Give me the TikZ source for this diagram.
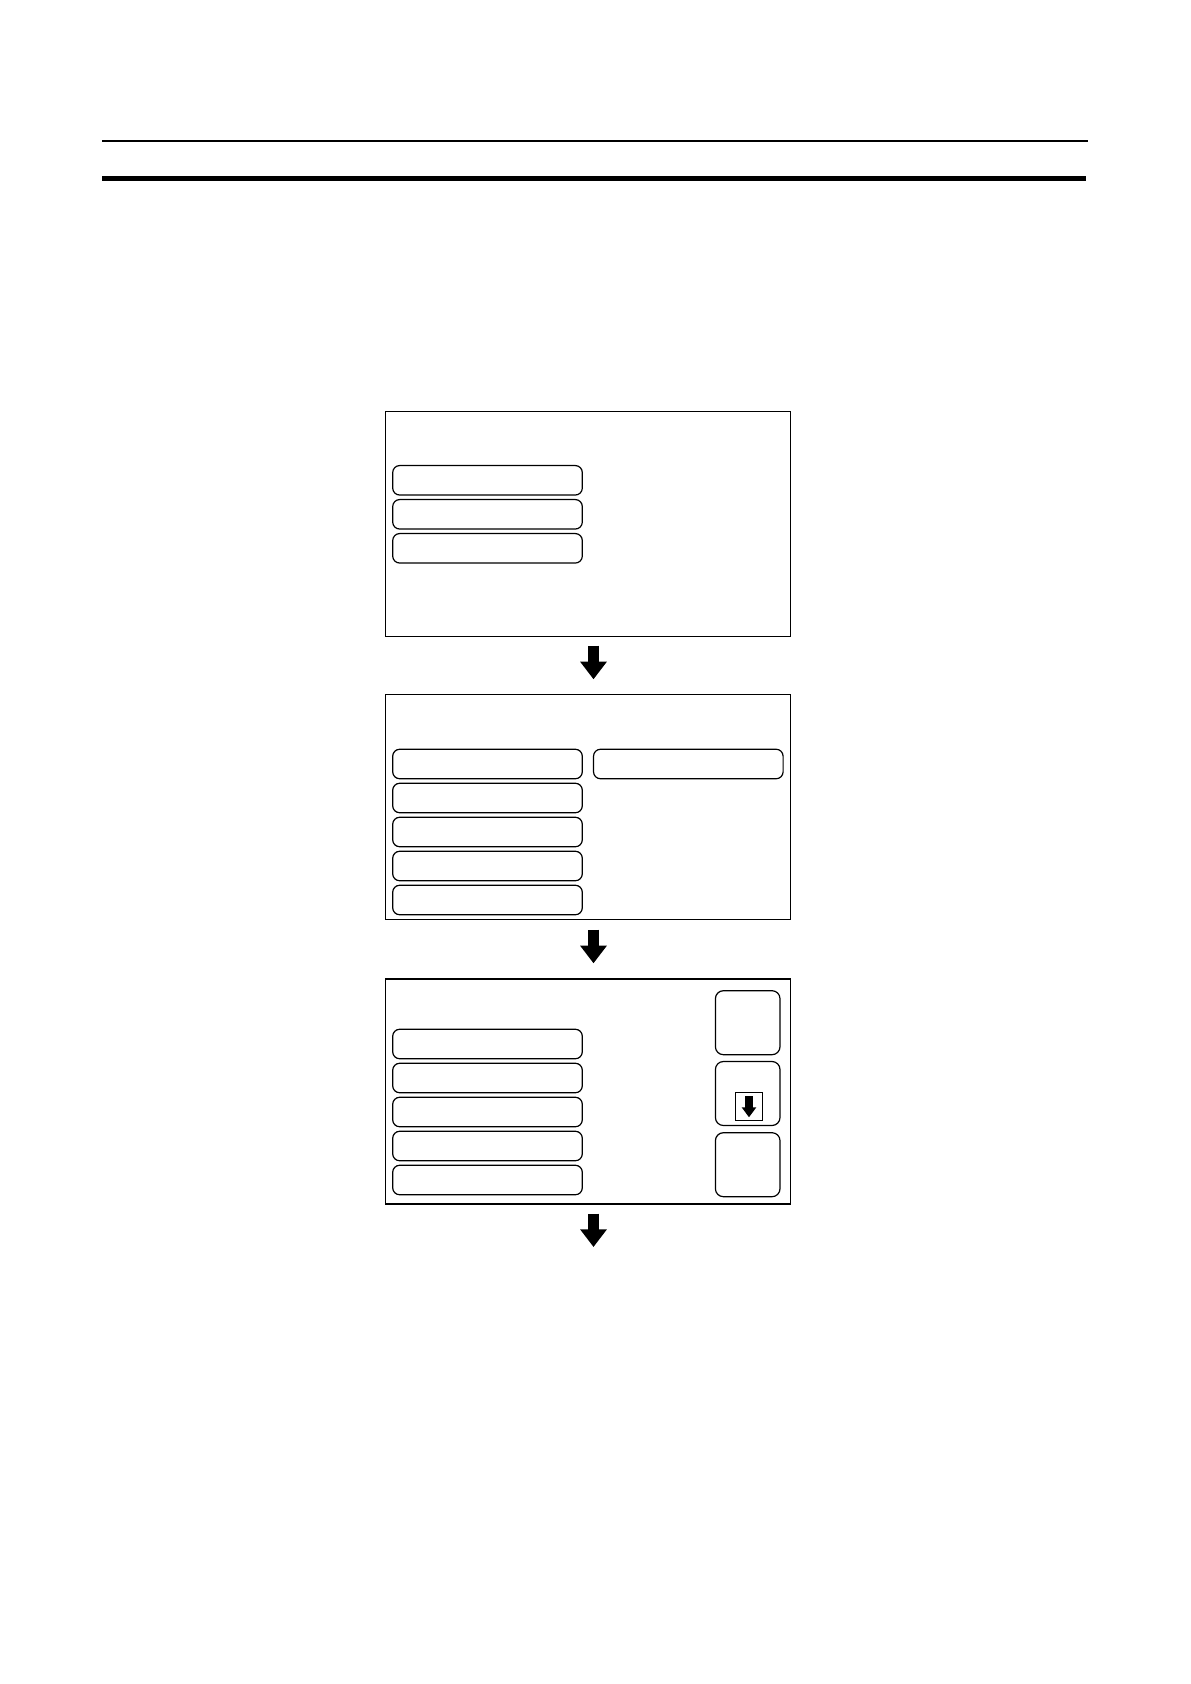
\documentclass[tikz,border=0pt]{standalone}
\usepackage{tikz}
\usetikzlibrary{calc,arrows.meta}

\begin{document}
\begin{tikzpicture}
[x=0.5pt,y=-0.5pt,
 screen/.style={draw,rectangle,line width=0.7pt,inner sep=0pt,minimum width=202.7pt,minimum height=112.5pt},
 key/.style={draw,rectangle,rounded corners=3.5pt,line width=0.6pt,inner sep=0pt,minimum width=94.8pt,minimum height=14.75pt},
 sidekey/.style={draw,rectangle,rounded corners=4pt,line width=0.6pt,inner sep=0pt,minimum width=32.3pt,minimum height=32pt},
 iconbox/.style={draw,rectangle,line width=0.6pt,inner sep=0pt,minimum width=13.7pt,minimum height=14pt},
 bigarrow/.style={line width=5.8pt,-{Triangle[width=12.85pt,length=8.85pt]}},
 smallarrow/.style={line width=3.65pt,-{Triangle[width=7pt,length=5pt]}}]

% page size
\useasboundingbox (0,0) rectangle (1190,1684);

% the rules at the head of the page
\draw[line width=0.85pt] (102,140.7) -- (1087.7,140.7);
\draw[line width=2.35pt] (102,178.4) -- (1085.7,178.4);

% the three screens
\node[screen] (s1) at (588,524) {};
\node[screen] (s2) at (588,807) {};
\node[screen] (s3) at (588,1091.5) {};

% keys of the first screen
\node[key] (s1k1) at (487.5,480.3) {};
\node[key] (s1k2) at (487.5,514.3) {};
\node[key] (s1k3) at (487.5,548.3) {};

% keys of the second screen
\node[key] (s2k1) at (487.5,764) {};
\node[key] (s2k2) at (487.5,798) {};
\node[key] (s2k3) at (487.5,832) {};
\node[key] (s2k4) at (487.5,866) {};
\node[key] (s2k5) at (487.5,900) {};
\node[key] (s2r1) at (688.3,764) {};

% keys of the third screen
\node[key] (s3k1) at (487.5,1044) {};
\node[key] (s3k2) at (487.5,1078) {};
\node[key] (s3k3) at (487.5,1112) {};
\node[key] (s3k4) at (487.5,1146) {};
\node[key] (s3k5) at (487.5,1180) {};
\node[sidekey] (up) at (747.7,1022.7) {};
\node[sidekey] (down) at (747.7,1093.5) {};
\node[sidekey] (ok) at (747.7,1164.7) {};

% the scroll symbol
\node[iconbox] (dn) at (749,1106.3) {};
\draw[smallarrow] ([yshift=-2.2pt]dn.north) -- ([yshift=1.8pt]dn.south);

% the arrows between the screens
\coordinate (end) at (593.5,1247);
\draw[bigarrow] ([xshift=2.75pt,yshift=-4.25pt]s1.south) -- ([xshift=2.75pt,yshift=7.25pt]s2.north);
\draw[bigarrow] ([xshift=2.75pt,yshift=-4.75pt]s2.south) -- ([xshift=2.75pt,yshift=7.5pt]s3.north);
\draw[bigarrow] ([xshift=2.75pt,yshift=-4.5pt]s3.south) -- (end);

\end{tikzpicture}
\end{document}
